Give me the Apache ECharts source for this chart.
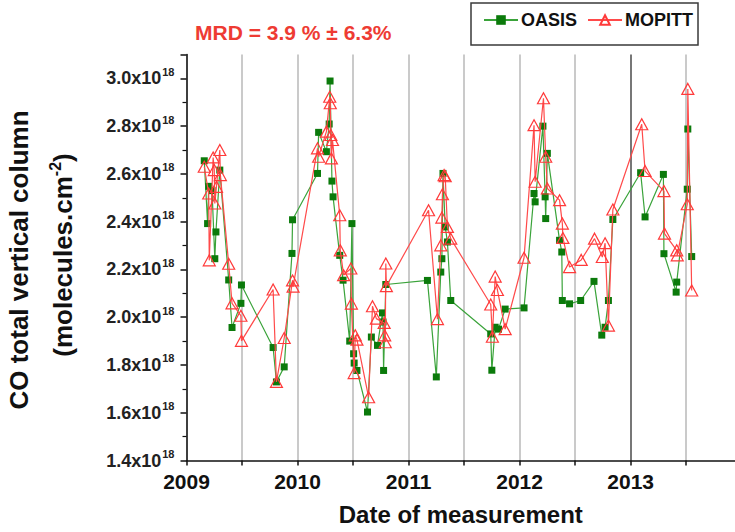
<!DOCTYPE html>
<html><head><meta charset="utf-8">
<script src="https://cdn.jsdelivr.net/npm/echarts@6/dist/echarts.min.js"></script>
<style>html,body{margin:0;padding:0;background:#fff}#chart{width:735px;height:532px}</style>
</head><body><div id="chart"></div>
<script>
// CO total vertical column, in units of 10^18 molecules.cm^-2
const oasisDates = [2009.16,2009.19,2009.20,2009.23,2009.255,2009.265,2009.30,2009.38,2009.41,2009.49,2009.495,2009.78,2009.81,2009.88,2009.95,2009.955,2010.18,2010.19,2010.26,2010.285,2010.293,2010.31,2010.32,2010.38,2010.41,2010.47,2010.49,2010.505,2010.51,2010.535,2010.63,2010.665,2010.72,2010.765,2010.77,2010.775,2010.795,2011.17,2011.25,2011.29,2011.30,2011.31,2011.33,2011.35,2011.38,2011.74,2011.75,2011.78,2011.81,2011.87,2012.04,2012.13,2012.14,2012.21,2012.23,2012.235,2012.25,2012.36,2012.38,2012.385,2012.45,2012.55,2012.67,2012.74,2012.77,2012.80,2012.84,2013.09,2013.13,2013.295,2013.30,2013.41,2013.415,2013.51,2013.515,2013.55];
const oasisCO = [2.655,2.392,2.548,2.53,2.245,2.357,2.616,2.156,1.957,2.058,2.135,1.873,1.729,1.792,2.267,2.408,2.602,2.774,2.693,2.809,2.989,2.57,2.504,2.259,2.155,1.90,2.392,1.847,1.808,1.777,1.603,1.917,1.882,2.018,1.98,1.777,2.137,2.154,1.75,2.189,2.245,2.602,2.378,2.315,2.07,1.93,1.778,1.958,1.95,2.034,2.039,2.518,2.483,2.80,2.504,2.413,2.686,2.322,2.273,2.07,2.056,2.07,2.15,1.925,1.958,2.07,2.409,2.605,2.42,2.598,2.266,2.105,2.147,2.536,2.788,2.254];
const mopittDates = [2009.16,2009.20,2009.205,2009.24,2009.25,2009.255,2009.27,2009.30,2009.305,2009.38,2009.41,2009.49,2009.495,2009.78,2009.81,2009.88,2009.955,2009.96,2010.18,2010.19,2010.26,2010.29,2010.295,2010.30,2010.305,2010.315,2010.38,2010.385,2010.415,2010.48,2010.485,2010.51,2010.52,2010.535,2010.64,2010.675,2010.71,2010.78,2010.785,2010.79,2010.795,2010.80,2011.18,2011.26,2011.29,2011.30,2011.305,2011.32,2011.33,2011.35,2011.38,2011.74,2011.755,2011.78,2011.80,2011.87,2012.04,2012.13,2012.14,2012.215,2012.235,2012.25,2012.36,2012.385,2012.39,2012.45,2012.555,2012.675,2012.745,2012.77,2012.80,2012.84,2013.10,2013.13,2013.30,2013.305,2013.415,2013.42,2013.51,2013.515,2013.55];
const mopittCO = [2.63,2.518,2.238,2.669,2.616,2.476,2.546,2.70,2.595,2.224,2.058,2.006,1.901,2.116,1.729,1.913,2.154,2.128,2.707,2.672,2.777,2.923,2.896,2.763,2.665,2.742,2.427,2.28,2.176,2.204,2.057,1.766,1.924,1.906,1.665,2.046,1.994,1.976,1.924,1.895,2.225,2.13,2.448,1.992,2.301,2.417,2.515,2.595,2.59,2.378,2.329,2.053,1.918,2.17,2.114,1.95,2.249,2.804,2.567,2.917,2.672,2.539,2.49,2.392,2.332,2.21,2.24,2.329,2.252,2.31,1.965,2.451,2.808,2.612,2.528,2.35,2.28,2.259,2.473,2.956,2.112];
const seriesNames = ['OASIS', 'MOPITT'];
const yearLabels = [2009, 2010, 2011, 2012, 2013];
const yTickValues = [1.4, 1.6, 1.8, 2.0, 2.2, 2.4, 2.6, 2.8, 3.0];
const titleText = 'MRD = 3.9 % \u00b1 6.3%';
const xAxisTitle = 'Date of measurement';
const yAxisTitle1 = 'CO total vertical column';
const yAxisTitle2 = '(molecules.cm';

const FONT = '"Liberation Sans", Arial, sans-serif';
const chart = echarts.init(document.getElementById('chart'), null, {renderer: 'svg'});
const zip = (xs, ys) => xs.map((x, i) => [x, ys[i]]);

const gridColors = [];
for (let t = 2009; t <= 2013.5 + 1e-9; t += 0.5) gridColors.push(Math.abs(t - 2013) < 1e-6 ? '#4a4a4a' : '#b8b8b8');

chart.setOption({
  animation: false,
  backgroundColor: '#fff',
  title: {
    text: titleText, left: 190, top: 17,
    textStyle: {color: '#ee3b33', fontSize: 21, fontWeight: 'bold', fontFamily: FONT}
  },
  legend: {
    data: seriesNames, left: 471, top: 3,
    padding: [8, 5, 16, 12], itemGap: 10, itemWidth: 34, itemHeight: 12,
    borderColor: '#3a3a3a', borderWidth: 1.5,
    textStyle: {fontSize: 18, fontWeight: 'bold', color: '#111', fontFamily: FONT, padding: [0, 0, 0, -2]}
  },
  grid: {left: 186.5, right: 0, top: 54.5, bottom: 71.5, containLabel: false},
  xAxis: {
    type: 'value', min: 2009, max: 2013.94, interval: 0.5,
    name: xAxisTitle, nameLocation: 'middle', nameGap: 42,
    nameTextStyle: {fontSize: 24, fontWeight: 'bold', color: '#111', fontFamily: FONT},
    axisLine: {onZero: false, lineStyle: {color: '#111', width: 1.5}},
    axisTick: {length: 5, lineStyle: {color: '#111', width: 1.5}},
    axisLabel: {
      margin: 10, fontSize: 21, fontWeight: 'bold', color: '#111', fontFamily: FONT,
      showMaxLabel: false,
      formatter: v => { const r = Math.round(v); return (Math.abs(v - r) < 1e-6 && yearLabels.includes(r)) ? String(r) : ''; }
    },
    splitLine: {show: true, showMaxLine: false, lineStyle: {color: gridColors, width: 1.5}}
  },
  yAxis: {
    type: 'value', min: 1.4, max: 3.1, interval: 0.2,
    axisLine: {show: true, onZero: false, lineStyle: {color: '#111', width: 1.5}},
    axisTick: {show: true, length: 6, lineStyle: {color: '#111', width: 1.5}},
    minorTick: {show: true, splitNumber: 2, length: 4, lineStyle: {color: '#111', width: 1.2}},
    splitLine: {show: false},
    axisLabel: {
      margin: 12, showMaxLabel: false,
      formatter: v => yTickValues.some(t => Math.abs(t - v) < 1e-6) ? '{m|' + v.toFixed(1) + 'x10}{s|18}' : '',
      rich: {
        m: {fontSize: 18, fontWeight: 'bold', color: '#222', fontFamily: FONT, lineHeight: 24},
        s: {fontSize: 11, fontWeight: 'bold', color: '#222', fontFamily: FONT, verticalAlign: 'top', padding: [0, 0, 0, 1]}
      }
    }
  },
  graphic: [
    {type: 'text', x: 19, y: 260, rotation: Math.PI / 2,
     style: {text: yAxisTitle1, fontSize: 26, fontWeight: 'bold', fill: '#111', fontFamily: FONT, align: 'center', verticalAlign: 'middle'}},
    {type: 'text', x: 63, y: 255, rotation: Math.PI / 2,
     style: {text: '{n|' + yAxisTitle2 + '}{s|-2}{n|)}', align: 'center', verticalAlign: 'middle',
       rich: {
         n: {fontSize: 26, fontWeight: 'bold', fill: '#111', fontFamily: FONT, lineHeight: 32},
         s: {fontSize: 16, fontWeight: 'bold', fill: '#111', fontFamily: FONT, verticalAlign: 'top'}
       }}}
  ],
  series: [
    {
      name: seriesNames[0], type: 'line', data: zip(oasisDates, oasisCO),
      symbol: 'rect', symbolSize: 7,
      lineStyle: {color: '#3aa33a', width: 1.2},
      itemStyle: {color: '#0b7a0b', borderWidth: 0},
      emphasis: {disabled: true}, z: 2
    },
    {
      name: seriesNames[1], type: 'line', data: zip(mopittDates, mopittCO),
      symbol: 'triangle', symbolSize: [12, 11],
      lineStyle: {color: '#ff4a4a', width: 1.2},
      itemStyle: {color: 'rgba(255,255,255,0)', borderColor: '#ff3a3a', borderWidth: 1.2},
      emphasis: {disabled: true}, z: 3
    }
  ]
});
</script></body></html>
